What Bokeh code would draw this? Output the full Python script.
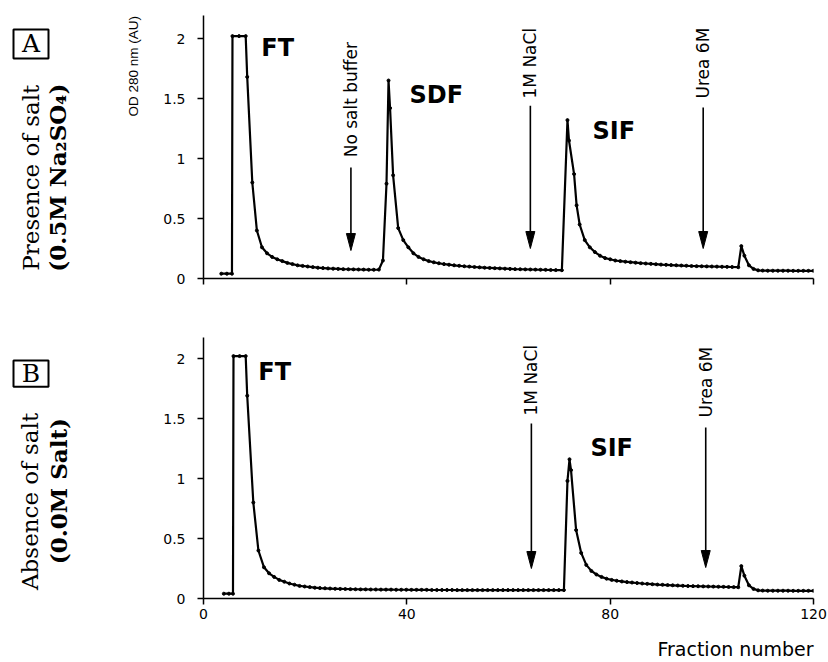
import math
from bokeh.plotting import figure
from bokeh.layouts import column, row
from bokeh.models import FixedTicker, Range1d
from bokeh.core.properties import value
from bokeh.embed import file_html
from bokeh.resources import INLINE

# ---------------- data ----------------
X_TICKS = [0, 40, 80, 120]
X_TICK_LABELS = ["0", "40", "80", "120"]
Y_TICKS = [0, 0.5, 1, 1.5, 2]
Y_TICK_LABELS = ["0", "0.5", "1", "1.5", "2"]

# Panel A: presence of salt (0.5M Na2SO4)
FRAC_A = [3.5, 4.6, 5.6, 5.7, 7.0, 8.3, 8.6, 9.6, 10.5,
          11.5, 12.5, 13.5, 14.5, 15.5, 16.5, 17.5, 18.5, 19.5, 20.5,
          21.5, 22.5, 23.5, 24.5, 25.5, 26.5, 27.5, 28.5, 29.5, 30.5,
          31.5, 32.5, 33.5, 34.5,
          35.3, 36.0, 36.4, 36.7, 37.3,
          38.3, 39.3, 40.3, 41.3, 42.3, 43.3, 44.3, 45.3, 46.3, 47.3,
          48.3, 49.3, 50.3, 51.3, 52.3, 53.3, 54.3, 55.3, 56.3, 57.3,
          58.3, 59.3, 60.3, 61.3, 62.3, 63.3, 64.3, 65.3, 66.3, 67.3,
          68.3, 69.3,
          70.5, 71.6, 71.9, 72.9, 73.4,
          74, 75, 76, 77, 78, 79, 80, 81, 82, 83,
          84, 85, 86, 87, 88, 89, 90, 91, 92, 93,
          94, 95, 96, 97, 98, 99, 100, 101, 102, 103,
          104,
          105.2, 105.8, 106.4, 107.3, 108.2, 109.1,
          110, 111, 112, 113, 114, 115, 116, 117, 118, 119, 120]
OD_A = [0.04, 0.04, 0.04, 2.02, 2.02, 2.02, 1.68, 0.80, 0.40,
        0.26, 0.21, 0.18, 0.16, 0.145, 0.13, 0.12, 0.11, 0.105, 0.10,
        0.095, 0.09, 0.087, 0.084, 0.082, 0.08, 0.078, 0.077, 0.076, 0.075,
        0.074, 0.073, 0.073, 0.074,
        0.15, 0.79, 1.65, 1.42, 0.86,
        0.42, 0.32, 0.26, 0.21, 0.18, 0.16, 0.145, 0.135, 0.127, 0.12,
        0.115, 0.11, 0.106, 0.102, 0.099, 0.096, 0.093, 0.09, 0.088, 0.086,
        0.084, 0.082, 0.08, 0.078, 0.077, 0.076, 0.075, 0.074, 0.073, 0.072,
        0.071, 0.07,
        0.069, 1.32, 1.15, 0.87, 0.61,
        0.45, 0.32, 0.26, 0.22, 0.19, 0.17, 0.16, 0.15, 0.145, 0.14,
        0.136, 0.132, 0.128, 0.125, 0.122, 0.119, 0.116, 0.114, 0.112, 0.11,
        0.108, 0.106, 0.104, 0.103, 0.102, 0.101, 0.10, 0.099, 0.098, 0.097,
        0.096,
        0.094, 0.27, 0.19, 0.11, 0.08, 0.068,
        0.066, 0.065, 0.065, 0.065, 0.065, 0.065, 0.064, 0.064, 0.064, 0.064, 0.064]

# Panel B: absence of salt (0.0M salt)
FRAC_B = [4.0, 5.0, 5.8, 5.9, 7.1, 8.3, 8.6, 9.8, 10.8,
          11.9, 12.9, 13.9, 14.9, 15.9, 16.9, 17.9, 18.9, 19.9, 20.9,
          21.9, 22.9, 23.9, 24.9, 25.9, 26.9, 27.9, 28.9, 29.9, 30.9,
          31.9, 32.9, 33.9, 34.9, 35.9, 36.9, 37.9, 38.9, 39.9, 40.9,
          41.9, 42.9, 43.9, 44.9, 45.9, 46.9, 47.9, 48.9, 49.9, 50.9,
          51.9, 52.9, 53.9, 54.9, 55.9, 56.9, 57.9, 58.9, 59.9, 60.9,
          61.9, 62.9, 63.9, 64.9, 65.9, 66.9, 67.9, 68.9, 69.9,
          70.9, 71.6, 72.0, 72.3, 73.3,
          74.3, 75.3, 76.3, 77.3, 78.3, 79.3, 80.3, 81.3, 82.3, 83.3,
          84.3, 85.3, 86.3, 87.3, 88.3, 89.3, 90.3, 91.3, 92.3, 93.3,
          94.3, 95.3, 96.3, 97.3, 98.3, 99.3, 100.3, 101.3, 102.3, 103.3,
          104.3,
          105.2, 105.8, 106.4, 107.3, 108.2, 109.1,
          110, 111, 112, 113, 114, 115, 116, 117, 118, 119, 120]
OD_B = [0.04, 0.04, 0.04, 2.02, 2.02, 2.02, 1.69, 0.80, 0.40,
        0.26, 0.21, 0.18, 0.155, 0.14, 0.125, 0.115, 0.105, 0.10, 0.095,
        0.09, 0.087, 0.085, 0.083, 0.081, 0.08, 0.079, 0.078, 0.077, 0.076,
        0.076, 0.075, 0.075, 0.074, 0.074, 0.074, 0.073, 0.073, 0.073, 0.072,
        0.072, 0.072, 0.072, 0.071, 0.071, 0.071, 0.071, 0.071, 0.07, 0.07,
        0.07, 0.07, 0.07, 0.07, 0.07, 0.07, 0.07, 0.07, 0.07, 0.07,
        0.07, 0.07, 0.07, 0.07, 0.07, 0.07, 0.07, 0.07, 0.07,
        0.07, 0.98, 1.16, 1.07, 0.57,
        0.38, 0.28, 0.23, 0.20, 0.18, 0.165, 0.155, 0.148, 0.142, 0.137,
        0.133, 0.129, 0.125, 0.122, 0.119, 0.116, 0.114, 0.112, 0.11, 0.108,
        0.106, 0.104, 0.103, 0.102, 0.101, 0.10, 0.099, 0.098, 0.097, 0.096,
        0.095,
        0.094, 0.27, 0.19, 0.11, 0.08, 0.068,
        0.066, 0.065, 0.065, 0.065, 0.065, 0.065, 0.064, 0.064, 0.064, 0.064, 0.064]

assert len(FRAC_A) == len(OD_A) and len(FRAC_B) == len(OD_B)

# arrows (buffer changes): fraction, label, arrow start, arrow tip, text start
ARROW_A_X = [29.0, 64.3, 98.3]
ARROW_A_TEXT = ["No salt buffer", "1M NaCl", "Urea 6M"]
ARROW_A_START = [0.925, 1.44, 1.425]
ARROW_A_TIP = [0.233, 0.25, 0.25]
ARROW_A_TEXT_Y = [1.01, 1.5, 1.5]

ARROW_B_X = [64.5, 98.8]
ARROW_B_TEXT = ["1M NaCl", "Urea 6M"]
ARROW_B_START = [1.458, 1.425]
ARROW_B_TIP = [0.25, 0.258]
ARROW_B_TEXT_Y = [1.525, 1.508]

# peak names
PEAK_A_X = [14.6, 45.8, 80.7]
PEAK_A_Y = [1.92, 1.533, 1.233]
PEAK_A_TEXT = ["FT", "SDF", "SIF"]
PEAK_B_X = [14.0, 80.3]
PEAK_B_Y = [1.89, 1.258]
PEAK_B_TEXT = ["FT", "SIF"]

SANS = "DejaVu Sans"
SERIF = "DejaVu Serif"
PX_PER_UNIT = 120.0
LEFT_W = 150
MAIN_W = 678
TOP_H = 300
BOT_H = 328
STRIP_H = 34


def make_panel(height, b_top, b_bottom, show_x_labels):
    frame_h = height - b_top - b_bottom
    p = figure(width=MAIN_W, height=height, x_range=Range1d(0, 120),
               y_range=Range1d(0, frame_h / PX_PER_UNIT),
               output_backend="svg", toolbar_location=None, title=None,
               min_border_left=53, min_border_right=15,
               min_border_top=b_top, min_border_bottom=b_bottom)
    p.grid.visible = False
    p.outline_line_color = None
    p.background_fill_color = "white"
    p.border_fill_color = "white"
    for ax in (p.xaxis[0], p.yaxis[0]):
        ax.axis_line_color = "black"
        ax.axis_line_width = 1.5
        ax.major_tick_line_color = "black"
        ax.major_tick_line_width = 1.5
        ax.minor_tick_line_color = None
        ax.major_tick_in = 0
        ax.major_tick_out = 6
        ax.major_label_text_color = "black"
        ax.major_label_text_font = SANS
        ax.major_label_text_font_size = "14px"
    p.xaxis.ticker = FixedTicker(ticks=X_TICKS)
    if show_x_labels:
        p.xaxis.major_label_overrides = dict(zip(X_TICKS, X_TICK_LABELS))
    else:
        p.xaxis.major_label_overrides = {t: "" for t in X_TICKS}
    p.xaxis.major_label_standoff = 4
    p.yaxis.ticker = FixedTicker(ticks=Y_TICKS)
    p.yaxis.major_label_overrides = dict(zip(Y_TICKS, Y_TICK_LABELS))
    p.yaxis.major_label_standoff = 12
    return p


def make_blank(width, height):
    p = figure(width=width, height=height, x_range=Range1d(0, width),
               y_range=Range1d(0, height), output_backend="svg",
               toolbar_location=None, title=None,
               x_axis_location=None, y_axis_location=None,
               min_border=0, min_border_left=0, min_border_right=0,
               min_border_top=0, min_border_bottom=0)
    p.grid.visible = False
    p.outline_line_color = None
    p.background_fill_color = "white"
    p.border_fill_color = "white"
    return p


def draw_trace(p, xs, ys):
    p.line(xs, ys, line_color="black", line_width=2.2)
    p.scatter(xs, ys, marker="circle", size=3, fill_color="black", line_color="black")


def draw_arrows(p, xs, starts, tips, texts, text_y):
    head_len = 17 / PX_PER_UNIT
    half_w = 4.5 / 5.083
    p.segment(x0=xs, y0=starts, x1=xs, y1=[t + head_len * 0.8 for t in tips],
              line_color="black", line_width=1.6)
    p.patches(xs=[[x - half_w, x + half_w, x] for x in xs],
              ys=[[t + head_len, t + head_len, t] for t in tips],
              fill_color="black", line_color="black", line_width=1)
    p.text(x=xs, y=text_y, text=texts, angle=math.pi / 2,
           text_align="left", text_baseline="middle",
           text_font=value(SANS), text_font_size="17px", text_color="black")


def draw_peaks(p, xs, ys, texts):
    p.text(x=xs, y=ys, text=texts, text_align="center", text_baseline="middle",
           text_font=value(SANS), text_font_style="bold", text_font_size="24px",
           text_color="black")


def side_labels(p, h, letter, letter_pos, line1, line1_pos, line2, line2_pos):
    # positions are (x, y-from-top) inside the side strip
    p.rect(x=[letter_pos[0]], y=[h - letter_pos[1]], width=35, height=33,
           fill_color=None, line_color="black", line_width=2)
    p.text(x=[letter_pos[0]], y=[h - letter_pos[1]], text=[letter],
           text_align="center", text_baseline="middle", text_font=value(SERIF),
           text_font_size="25px", text_color="black")
    p.text(x=[line1_pos[0]], y=[h - line1_pos[1]], text=[line1], angle=math.pi / 2,
           text_align="center", text_baseline="middle", text_font=value(SERIF),
           text_font_size="23px", text_color="black")
    p.text(x=[line2_pos[0]], y=[h - line2_pos[1]], text=[line2], angle=math.pi / 2,
           text_align="center", text_baseline="middle", text_font=value(SERIF),
           text_font_style="bold", text_font_size="23px", text_color="black")


# ---------------- panel A ----------------
pA = make_panel(TOP_H, 15, 22, False)
draw_trace(pA, FRAC_A, OD_A)
draw_arrows(pA, ARROW_A_X, ARROW_A_START, ARROW_A_TIP, ARROW_A_TEXT, ARROW_A_TEXT_Y)
draw_peaks(pA, PEAK_A_X, PEAK_A_Y, PEAK_A_TEXT)

sA = make_blank(LEFT_W, TOP_H)
side_labels(sA, TOP_H, "A", (30.5, 32.5), "Presence of salt", (30, 185),
            "(0.5M Na\u2082SO\u2084)", (57, 185))
sA.text(x=[133], y=[TOP_H - 58], text=["OD 280 nm (AU)"], angle=math.pi / 2,
        text_align="center", text_baseline="middle", text_font=value("Liberation Sans"),
        text_font_size="13.5px", text_color="black")

# ---------------- panel B ----------------
pB = make_panel(BOT_H, 37, 30, True)
draw_trace(pB, FRAC_B, OD_B)
draw_arrows(pB, ARROW_B_X, ARROW_B_START, ARROW_B_TIP, ARROW_B_TEXT, ARROW_B_TEXT_Y)
draw_peaks(pB, PEAK_B_X, PEAK_B_Y, PEAK_B_TEXT)

sB = make_blank(LEFT_W, BOT_H)
side_labels(sB, BOT_H, "B", (30.5, 45.5), "Absence of salt", (29, 506 - TOP_H),
            "(0.0M Salt)", (58, 493 - TOP_H))

# ---------------- x-axis title strip ----------------
strip = make_blank(LEFT_W + MAIN_W, STRIP_H)
strip.text(x=[813], y=[STRIP_H - 20], text=["Fraction number"], text_align="right",
           text_baseline="middle", text_font=value(SANS), text_font_size="19px",
           text_color="black")

layout = column(row(sA, pA, spacing=0), row(sB, pB, spacing=0), strip, spacing=0)
open("out.html", "w").write(file_html(layout, INLINE))
